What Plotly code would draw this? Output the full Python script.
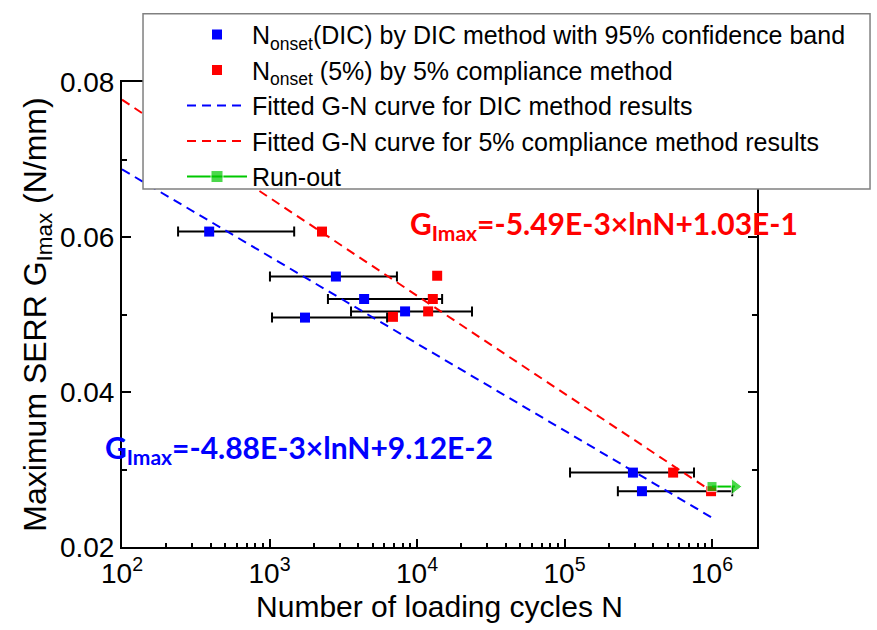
import math
import plotly.graph_objects as go

# ---- data ----
dic_N = [390, 2820, 4380, 8300, 1740, 291000, 335000]
dic_G = [0.0607, 0.0549, 0.0520, 0.0504, 0.0496, 0.0296, 0.0272]
dic_N_low = [240, 1007, 2490, 3570, 1040, 109000, 230000]
dic_N_high = [1470, 7310, 14800, 23600, 6270, 755000, 1370000]

c5_N = [2270, 13700, 12800, 11900, 6870, 545000, 985000]
c5_G = [0.0607, 0.0550, 0.0520, 0.0504, 0.0497, 0.0296, 0.0272]

runout_N = [1000000, 1430000]
runout_G = [0.0278, 0.0278]

fit_N = [100, 1000, 10000, 100000, 1000000]
dic_a, dic_b = -4.88e-3, 9.12e-2
c5_a, c5_b = -5.49e-3, 1.03e-1
fit_dic = [dic_a * math.log(n) + dic_b for n in fit_N]
fit_c5 = [c5_a * math.log(n) + c5_b for n in fit_N]

x_tickvals = [1e2, 1e3, 1e4, 1e5, 1e6]
x_ticktext = ["10<sup>2</sup>", "10<sup>3</sup>", "10<sup>4</sup>", "10<sup>5</sup>", "10<sup>6</sup>"]
x_minor = [m * 10 ** e for e in range(2, 7) for m in range(2, 10) if m * 10 ** e < 2e6]

y_tickvals = [0.02, 0.04, 0.06, 0.08]
y_ticktext = ["0.02", "0.04", "0.06", "0.08"]
y_minor = [0.03, 0.05, 0.07]

FONT = "Liberation Sans, Arial, sans-serif"
EQFONT = "Lato, Open Sans, sans-serif"

fig = go.Figure()

fig.add_trace(go.Scatter(
    x=dic_N, y=dic_G, mode="markers",
    name="N<sub>onset</sub>(DIC) by DIC method with 95% confidence band",
    marker=dict(symbol="square", size=10, color="#0000ff"),
    error_x=dict(type="data", symmetric=False,
                 array=[h - n for h, n in zip(dic_N_high, dic_N)],
                 arrayminus=[n - l for l, n in zip(dic_N_low, dic_N)],
                 color="#000000", thickness=2, width=5),
))
fig.add_trace(go.Scatter(
    x=c5_N, y=c5_G, mode="markers",
    name="N<sub>onset</sub> (5%) by 5% compliance method",
    marker=dict(symbol="square", size=10, color="#ff0000"),
))
fig.add_trace(go.Scatter(
    x=fit_N, y=fit_dic, mode="lines",
    name="Fitted G-N curve for DIC method results",
    line=dict(color="#0000ff", width=2, dash="9px,6px"),
))
fig.add_trace(go.Scatter(
    x=fit_N, y=fit_c5, mode="lines",
    name="Fitted G-N curve for 5% compliance method results",
    line=dict(color="#ff0000", width=2, dash="9px,6px"),
))
fig.add_trace(go.Scatter(
    x=runout_N, y=runout_G, mode="lines+markers",
    name="Run-out",
    line=dict(color="#00c800", width=2),
    marker=dict(symbol=["square", "triangle-right"], size=[10, 14], color="#00c800"),
))

# legend box (drawn as a shape so the legend entries can sit inset)
fig.add_shape(
    type="rect", xref="paper", yref="paper",
    x0=0.0331, x1=1.178, y0=0.770, y1=1.147,
    fillcolor="white", line=dict(color="#808080", width=1.5), layer="above",
)

fig.add_annotation(
    xref="paper", yref="paper", x=0.4504, y=0.6915, xanchor="left", yanchor="middle",
    text="<b>G<sub>Imax</sub>=-5.49E-3×lnN+1.03E-1</b>", showarrow=False,
    font=dict(family=EQFONT, size=30, color="#ff0000"),
)
fig.add_annotation(
    xref="paper", yref="paper", x=-0.0299, y=0.21, xanchor="left", yanchor="middle",
    text="<b>G<sub>Imax</sub>=-4.88E-3×lnN+9.12E-2</b>", showarrow=False,
    font=dict(family=EQFONT, size=30, color="#0000ff"),
)

fig.update_layout(
    width=877, height=630,
    margin=dict(l=122, r=120, t=81, b=79),
    paper_bgcolor="white", plot_bgcolor="white",
    font=dict(family=FONT, color="#000000"),
    showlegend=True,
    legend=dict(
        x=0.0945, y=1.151, xanchor="left", yanchor="top",
        bgcolor="rgba(0,0,0,0)", borderwidth=0,
        font=dict(family=FONT, size=25, color="#000000"),
        itemwidth=60,
    ),
)
fig.update_xaxes(
    type="log", range=[2, 6.305],
    tickvals=x_tickvals, ticktext=x_ticktext,
    ticks="inside", ticklen=8, tickwidth=1.5, tickcolor="black",
    minor=dict(tickvals=x_minor, ticks="inside", ticklen=4, tickwidth=1.5, tickcolor="black"),
    showline=True, linecolor="black", linewidth=2, mirror="ticks",
    showgrid=False, zeroline=False,
    tickfont=dict(family=FONT, size=28),
    title=dict(text="Number of loading cycles N", font=dict(family=FONT, size=30), standoff=8),
)
fig.update_yaxes(
    range=[0.02, 0.08],
    tickvals=y_tickvals, ticktext=y_ticktext,
    ticks="inside", ticklen=9, tickwidth=1.5, tickcolor="black",
    minor=dict(tickvals=y_minor, ticks="inside", ticklen=5, tickwidth=1.5, tickcolor="black"),
    showline=True, linecolor="black", linewidth=2, mirror="ticks",
    showgrid=False, zeroline=False,
    tickfont=dict(family=FONT, size=28),
    title=dict(text="Maximum SERR G<sub>Imax</sub> (N/mm)", font=dict(family=FONT, size=32), standoff=4),
)

fig.write_html("out.html")
